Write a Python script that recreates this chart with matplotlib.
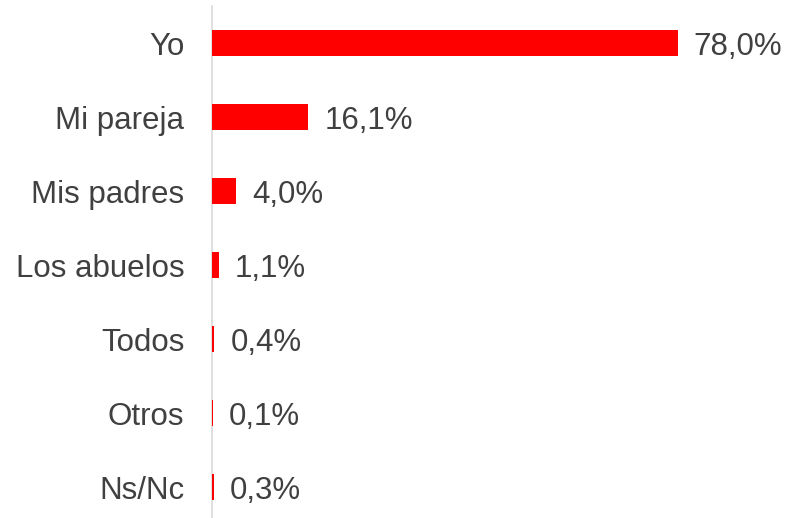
import matplotlib.pyplot as plt

# answers and their share (%)
categories = ['Yo', 'Mi pareja', 'Mis padres', 'Los abuelos', 'Todos', 'Otros', 'Ns/Nc']
values = [78.0, 16.1, 4.0, 1.1, 0.4, 0.1, 0.3]
value_labels = ['78,0%', '16,1%', '4,0%', '1,1%', '0,4%', '0,1%', '0,3%']

plt.rcParams['font.family'] = ['Liberation Sans', 'DejaVu Sans']
text_color = '#404040'

fig = plt.figure(figsize=(7.86, 5.18), dpi=100)
ax = fig.add_axes([212 / 786, -6 / 518, 1 - 212 / 786, 1.0])

pos = list(range(len(categories)))
ax.barh(pos, values, height=0.35, color='#FF0000', linewidth=0, zorder=3)

for y, v, lab in zip(pos, values, value_labels):
    ax.annotate(lab, xy=(v, y), xytext=(11.5, 0), textcoords='offset points',
                ha='left', va='center_baseline', fontsize=22.5, color=text_color)

ax.set_yticks(pos)
ax.set_yticklabels(categories, fontsize=22.5, color=text_color)
ax.tick_params(axis='y', length=0, pad=20)
ax.set_xticks([])
ax.set_xlim(0, 96.1)
ax.set_ylim(len(categories) - 0.5, -0.5)

for side in ['top', 'right', 'bottom']:
    ax.spines[side].set_visible(False)
ax.spines['left'].set_color('#d9d9d9')
ax.spines['left'].set_linewidth(1.2)
ax.spines['left'].set_zorder(1)
ax.set_facecolor('none')

fig.savefig('out.png', dpi=100)
